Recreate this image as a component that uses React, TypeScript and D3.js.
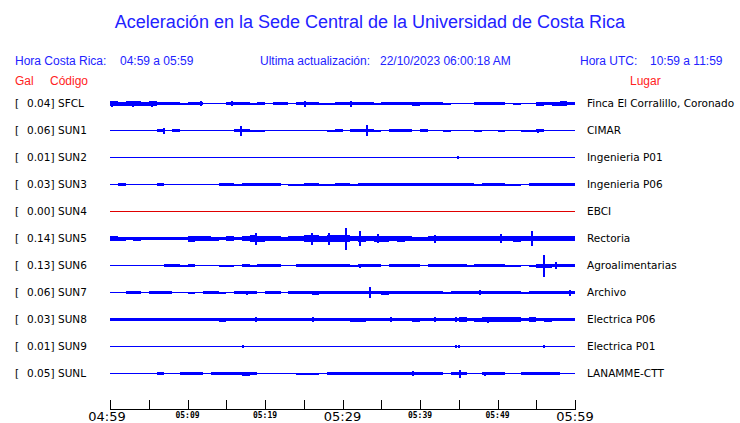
import {useEffect, useRef} from "react"

import * as d3 from "d3"

const width = 740
const height = 423

const blue = "#2222ff"
const red = "#ff2222"

const stations = ["SFCL", "SUN1", "SUN2", "SUN3", "SUN4", "SUN5", "SUN6", "SUN7", "SUN8", "SUN9", "SUNL"]
const peakGal = [0.04, 0.06, 0.01, 0.03, 0.0, 0.14, 0.13, 0.06, 0.03, 0.01, 0.05]
const places = [
  "Finca El Corralillo, Coronado",
  "CIMAR",
  "Ingenieria P01",
  "Ingenieria P06",
  "EBCI",
  "Rectoria",
  "Agroalimentarias",
  "Archivo",
  "Electrica P06",
  "Electrica P01",
  "LANAMME-CTT",
]

const tickLabels = ["04:59", "05:09", "05:19", "05:29", "05:39", "05:49", "05:59"]
const bigLabels = ["04:59", "05:29", "05:59"]

// envelope (half amplitude) per minute, 04:59 -> 05:59
const sfclEnvelope = [2.2, 2, 2.5, 2.2, 2, 2.2, 1.5, 1.5, 1.5, 1, 1.2, 1.5, 0.8, 0.6, 0.8, 1.5, 1.5, 1.5, 1, 1.2, 0.8, 1.5, 1.2, 0.8, 1.5, 1.8, 1.5, 1, 1, 1.5, 1.5, 1.5, 1.5, 1.5, 1, 1.5, 1.5, 1.5, 1.5, 2, 1.5, 1.2, 1.5, 1, 0.5, 0.8, 0.8, 1.2, 1.5, 1.2, 1.2, 0.5, 1, 0.6, 0.8, 2, 1.8, 2, 2.2, 1.8]
const sun1Envelope = [0.5, 0.5, 0.5, 0.5, 0.5, 0.5, 1.5, 0.5, 1.2, 0.5, 0.5, 0.5, 0.5, 0.5, 0.7, 0.5, 1.5, 1.5, 1, 1, 0.5, 0.5, 0.5, 0.5, 0.7, 0.5, 0.7, 0.5, 1, 1.2, 0.5, 1.2, 1.2, 1.5, 1, 0.5, 1.5, 1.5, 1.5, 0.7, 1.2, 0.5, 0.5, 1, 0.8, 0.5, 0.7, 1, 0.5, 0.8, 1, 0.5, 0.8, 1, 1, 1.5, 0.5, 0.7, 0.5, 0.7]
const sun2Envelope = [0, 0, 0, 0, 0, 0, 0, 0, 0, 0, 0, 0, 0, 0, 0, 0, 0, 0, 0, 0, 0, 0, 0, 0, 0, 0, 0, 0, 0, 0, 0, 0, 0, 0, 0, 0, 0, 0, 0, 0, 0, 0, 0, 0, 0, 0, 0, 0, 0, 0, 0, 0, 0, 0, 0, 0, 0, 0, 0, 0]
const sun3Envelope = [0.5, 1.2, 0.5, 0.5, 0.5, 0.7, 1.2, 0.7, 0.5, 0.5, 0.8, 0.8, 0.6, 0.8, 1.2, 1.2, 1, 1.5, 1.5, 1.2, 1.2, 1.2, 0.8, 1, 1, 1.2, 1.2, 1, 1, 1.2, 1.2, 1, 1.5, 1.2, 1.2, 1.2, 1.2, 1.2, 1.2, 1.2, 1.2, 1.2, 1.2, 1.2, 1.5, 1.2, 1.2, 1, 1.2, 1.2, 1.2, 1, 1, 0.8, 1.2, 1.2, 1.2, 1.2, 1.2, 1.2]
const sun4Envelope = [0, 0, 0, 0, 0, 0, 0, 0, 0, 0, 0, 0, 0, 0, 0, 0, 0, 0, 0, 0, 0, 0, 0, 0, 0, 0, 0, 0, 0, 0, 0, 0, 0, 0, 0, 0, 0, 0, 0, 0, 0, 0, 0, 0, 0, 0, 0, 0, 0, 0, 0, 0, 0, 0, 0, 0, 0, 0, 0, 0]
const sun5Envelope = [2.3, 2, 1.8, 2, 1.7, 1.8, 1.7, 1.7, 1.8, 1.7, 3, 2.2, 2.5, 2, 1.7, 2.2, 1.7, 2.5, 3.5, 3, 2.5, 2.5, 2, 2.3, 2.3, 3.5, 3.5, 3, 3.5, 3.5, 3.5, 2.5, 3, 2.5, 3, 3, 2.8, 3, 2.5, 2, 2, 2.5, 2.5, 2.5, 2.5, 2.3, 2.5, 2.3, 2.5, 2.5, 2.8, 2.5, 3, 2.3, 2.8, 2.8, 2.5, 2.8, 2.5, 2.5]
const sun6Envelope = [0.5, 0.5, 0.5, 0.5, 0.8, 0.5, 0.5, 1.5, 1.2, 1, 1.2, 0.5, 0.5, 0.6, 1, 1, 0.6, 1.5, 1, 1.2, 1.2, 1.2, 0.5, 0.8, 1.5, 1.5, 1.5, 1.2, 1.2, 1.2, 1.2, 1, 1.2, 1.2, 1.2, 0.8, 1.5, 1.5, 1.5, 1.5, 0.8, 1.8, 1.5, 1.2, 1.2, 1.2, 1, 1.2, 1.2, 1.2, 1.5, 1, 1, 0.8, 1, 2, 2, 1.5, 1.5, 1.5]
const sun7Envelope = [0.5, 0.6, 1.5, 1.5, 0.6, 1.2, 1.2, 1.2, 0.5, 0.8, 1, 0.6, 1.5, 1.5, 1, 0.6, 1.5, 1.5, 1.2, 0.8, 1.5, 1.5, 0.6, 1.2, 1.2, 1.5, 2, 1.2, 1.2, 1.2, 1.2, 1.2, 1.2, 1.5, 1.5, 2, 1.5, 1.2, 1.2, 1.5, 1.5, 1.5, 1.5, 1, 1.5, 1.5, 1.5, 1.5, 1.5, 1.5, 1.2, 1.2, 1.2, 1, 1.2, 1.2, 1.2, 1.2, 1.2, 1.5]
const sun8Envelope = [1.8, 1.8, 1.7, 1.7, 1.7, 1.7, 1.7, 1.7, 1.7, 1.7, 1.7, 1.7, 1.7, 1.7, 2, 1.7, 1.7, 1.7, 1.7, 1.7, 1.7, 1.7, 1.7, 1.7, 1.7, 1.7, 1.7, 1.7, 1.7, 1.7, 1.7, 2, 2, 1.7, 1.7, 1.7, 1.7, 1.7, 1.7, 2, 1.7, 1.7, 1.7, 1.7, 1.7, 2.2, 1.7, 2, 2.2, 2.5, 2.5, 2.2, 2.2, 1.7, 2.2, 1.7, 2, 1.7, 1.7, 1.7]
const sun9Envelope = [0, 0, 0, 0, 0, 0, 0, 0, 0, 0, 0, 0, 0, 0, 0, 0, 0, 0, 0, 0, 0, 0, 0, 0, 0, 0, 0, 0, 0, 0, 0, 0, 0, 0, 0, 0, 0, 0, 0, 0, 0, 0, 0, 0, 0, 0, 0, 0, 0, 0, 0, 0, 0, 0, 0, 0, 0, 0, 0, 0]
const sunlEnvelope = [0.5, 0.5, 0.5, 0.5, 0.8, 0.5, 1.2, 0.5, 0.5, 1.2, 1.2, 1.2, 0.5, 1.2, 1.5, 1.5, 1.5, 2, 1.5, 0.8, 0.8, 0.8, 0.5, 0.5, 1, 1, 1, 0.8, 1.2, 1.2, 1.2, 1.2, 1.2, 1.2, 1.2, 1.2, 1.2, 1.2, 1.2, 1.2, 1.2, 1.2, 1.2, 0.8, 1.5, 1.5, 0.8, 0.8, 1.2, 1.5, 1.5, 0.5, 0.8, 1.2, 1.5, 1.5, 1.2, 1.2, 0.8, 0.8]

// isolated peaks: [minute, half amplitude]
const sfclPeaks = [[0.3, 3], [3.0, 3], [5.4, 3], [11.8, 2.5], [15.8, 2.5], [25.1, 3], [31.1, 3]]
const sun1Peaks = [[6.97, 3], [16.9, 5], [33.1, 5.5], [55.2, 2]]
const sun2Peaks = [[44.9, 1.5]]
const sun3Peaks = [[1.4, 1.5], [32.3, 1.8], [44.9, 1.8]]
const sun4Peaks: number[][] = []
const sun5Peaks = [[18.9, 6], [26, 6], [28.3, 6], [30.5, 11], [32.3, 7.5], [34.6, 4.5], [41.9, 4], [50.5, 4.5], [54.5, 7.5]]
const sun6Peaks = [[10.6, 1.8], [32.3, 2], [56, 11], [57.6, 3.5]]
const sun7Peaks = [[17.7, 2], [33.6, 5.5], [47.8, 2.5], [59.4, 3]]
const sun8Peaks = [[18.9, 2.5], [26.2, 2.5], [36.3, 2.5], [41.9, 2.5], [44.6, 2.5], [48.8, 3]]
const sun9Peaks = [[17.1, 1.2], [23.1, 0.8], [38.4, 0.8], [39.4, 0.8], [44.6, 1.2], [45, 1.2], [47, 0.8], [48.4, 0.8], [55.1, 0.8], [56, 1.2]]
const sunlPeaks = [[39.1, 2.5], [45.2, 4], [48.4, 2]]

const envelopes = [sfclEnvelope, sun1Envelope, sun2Envelope, sun3Envelope, sun4Envelope, sun5Envelope, sun6Envelope, sun7Envelope, sun8Envelope, sun9Envelope, sunlEnvelope]
const peaks = [sfclPeaks, sun1Peaks, sun2Peaks, sun3Peaks, sun4Peaks, sun5Peaks, sun6Peaks, sun7Peaks, sun8Peaks, sun9Peaks, sunlPeaks]

const App = () => {
  const ref = useRef<SVGSVGElement>(null)

  useEffect(() => {
    document.body.style.margin = "0"
    const svg = d3.select(ref.current)
    svg.selectAll("*").remove()

    const x = d3.scaleLinear().domain([0, 60]).range([110, 575])
    const y = d3.scalePoint<string>().domain(stations).range([103.5, 373.5])
    const amp = d3.scaleLinear().domain([0, 10]).range([0, 10])

    const sans = "'Liberation Sans', Arial, sans-serif"
    const dejavu = "'DejaVu Sans', sans-serif"

    svg
      .append("text")
      .attr("x", width / 2)
      .attr("y", 28)
      .attr("text-anchor", "middle")
      .attr("font-family", sans)
      .attr("font-size", 18)
      .attr("fill", blue)
      .text("Aceleración en la Sede Central de la Universidad de Costa Rica")

    const header = [
      {text: "Hora Costa Rica:", x: 15, y: 65, color: blue},
      {text: "04:59 a 05:59", x: 120, y: 65, color: blue},
      {text: "Ultima actualización:", x: 260, y: 65, color: blue},
      {text: "22/10/2023 06:00:18 AM", x: 380, y: 65, color: blue},
      {text: "Hora UTC:", x: 580, y: 65, color: blue},
      {text: "10:59 a 11:59", x: 650, y: 65, color: blue},
      {text: "Gal", x: 15, y: 85, color: red},
      {text: "Código", x: 50, y: 85, color: red},
      {text: "Lugar", x: 630, y: 85, color: red},
    ]
    svg
      .append("g")
      .selectAll("text")
      .data(header)
      .join("text")
      .attr("x", (d) => d.x)
      .attr("y", (d) => d.y)
      .attr("font-family", sans)
      .attr("font-size", 12)
      .attr("fill", (d) => d.color)
      .text((d) => d.text)

    stations.forEach((code, s) => {
      const base = y(code) as number
      const color = code === "SUN4" ? "#e00000" : "blue"
      const row = svg.append("g")

      const label = (t: string, lx: number, anchor: string) =>
        row
          .append("text")
          .attr("x", lx)
          .attr("y", base + 3.5)
          .attr("text-anchor", anchor)
          .attr("font-family", dejavu)
          .attr("font-size", 10.5)
          .attr("fill", "#000")
          .text(t)

      label("[", 15, "start")
      label(peakGal[s].toFixed(2) + "]", 54.5, "end")
      label(code, 58, "start")
      label(places[s], 587, "start")

      row
        .append("line")
        .attr("x1", x(0))
        .attr("x2", x(60))
        .attr("y1", base)
        .attr("y2", base)
        .attr("stroke", color)
        .attr("stroke-width", 1)

      row
        .append("g")
        .attr("shape-rendering", "crispEdges")
        .selectAll("rect.env")
        .data(envelopes[s].map((a, i) => ({a, i})).filter((d) => d.a > 0.5))
        .join("rect")
        .attr("class", "env")
        .attr("x", (d) => x(d.i))
        .attr("width", (d) => x(d.i + 1) - x(d.i))
        .attr("y", (d) => base - amp(d.a))
        .attr("height", (d) => 2 * amp(d.a))
        .attr("fill", color)

      row
        .append("g")
        .attr("shape-rendering", "crispEdges")
        .selectAll("rect.peak")
        .data(peaks[s])
        .join("rect")
        .attr("class", "peak")
        .attr("x", (d) => x(d[0]) - 1)
        .attr("width", 2)
        .attr("y", (d) => base - amp(d[1]))
        .attr("height", (d) => 2 * amp(d[1]))
        .attr("fill", color)
    })

    const axis = svg.append("g").attr("shape-rendering", "crispEdges")
    axis
      .append("line")
      .attr("x1", x(0))
      .attr("x2", x(60) + 1)
      .attr("y1", 409.5)
      .attr("y2", 409.5)
      .attr("stroke", "#000")
    axis
      .selectAll("line.tick")
      .data(d3.range(0, 61, 5))
      .join("line")
      .attr("class", "tick")
      .attr("x1", (d) => Math.round(x(d)) + 0.5)
      .attr("x2", (d) => Math.round(x(d)) + 0.5)
      .attr("y1", 400)
      .attr("y2", 409)
      .attr("stroke", "#000")
    axis
      .selectAll("text")
      .data(tickLabels)
      .join("text")
      .attr("x", (d, i) => x(i * 10) + (i === 0 ? -3 : 0))
      .attr("y", (d) => (bigLabels.includes(d) ? 421 : 418))
      .attr("text-anchor", "middle")
      .attr("font-family", (d) => (bigLabels.includes(d) ? dejavu : "'DejaVu Sans Mono', monospace"))
      .attr("font-weight", (d) => (bigLabels.includes(d) ? "normal" : "bold"))
      .attr("font-size", (d) => (bigLabels.includes(d) ? 13 : 8))
      .attr("fill", "#000")
      .text((d) => d)
  }, [])

  return <svg ref={ref} width={width} height={height} style={{display: "block", background: "#fff"}} />
}

export default App
